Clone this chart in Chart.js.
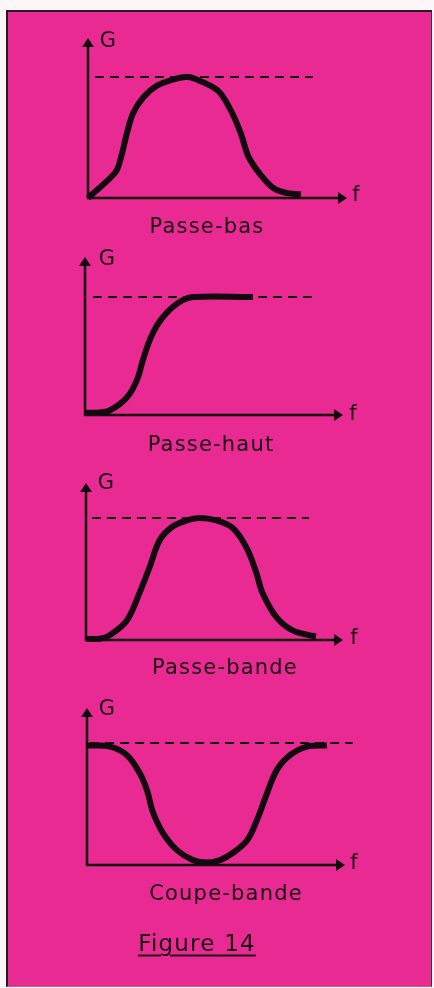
<!DOCTYPE html>
<html lang="fr">
<head>
<meta charset="utf-8">
<title>Figure 14</title>
<script src="https://cdn.jsdelivr.net/npm/chart.js@4.4.1/dist/chart.umd.min.js"></script>
<style>
  html, body { margin:0; padding:0; background:#fbf7f9; }
  body { width:434px; height:988px; position:relative; overflow:hidden; font-family:"DejaVu Sans", sans-serif; color:#1a1014; }
  .frame { position:absolute; left:6px; top:10px; width:423px; height:974px; background:#e92a92;
           border-left:2px solid #2a1620; border-top:2px solid #2a1620; border-right:1px solid #4a2a38; border-bottom:1px solid #b06a8a; }
  canvas { position:absolute; left:0; }
  .txt { position:absolute; transform:translate(-50%,-50%); white-space:nowrap; line-height:1; }
  .lbl { font-size:21px; letter-spacing:1.2px; }
  .ax { font-size:21px; }
  .fig { font-size:23px; letter-spacing:1.2px; text-decoration:underline; text-decoration-thickness:2px; text-underline-offset:4px; }
</style>
</head>
<body>
<div class="frame"></div>

<script>
// titres des filtres
const filterNames = ['Passe-bas', 'Passe-haut', 'Passe-bande', 'Coupe-bande'];
const axisG = 'G';
const axisF = 'f';
const figureTitle = 'Figure 14';

// courbes : f en % de l'axe, G relatif au niveau max (1)
const passeBasF = [0, 10.5, 12.4, 15.1, 17.4, 21.3, 26.7, 33, 37.6, 40.7, 50, 55, 58.9, 62, 66.7, 71.7, 77, 82.2];
const passeBasG = [0, 0.21, 0.31, 0.54, 0.70, 0.83, 0.93, 0.98, 1.0, 0.99, 0.89, 0.73, 0.54, 0.34, 0.19, 0.08, 0.04, 0.03];

const passeHautF = [0, 4.7, 9.7, 16.3, 20.2, 22.5, 25.2, 27.9, 31.8, 36.8, 41.9, 65.1];
const passeHautG = [0.02, 0.02, 0.04, 0.15, 0.30, 0.47, 0.64, 0.76, 0.87, 0.96, 1.0, 1.0];

const passeBandeF = [0, 5.4, 9.3, 15.9, 20.9, 24.8, 28.7, 33.7, 39.1, 44.2, 50.8, 57, 62.4, 66.3, 68.6, 74, 80.2, 86.8, 89.5];
const passeBandeG = [0.01, 0.01, 0.04, 0.16, 0.39, 0.60, 0.82, 0.93, 0.98, 1.0, 0.98, 0.92, 0.76, 0.55, 0.39, 0.19, 0.08, 0.04, 0.03];

const coupeBandeF = [0, 8.9, 15.5, 20.5, 23.3, 25.6, 29.5, 35, 41.1, 46.5, 51.6, 56.6, 62, 65.9, 69.8, 73.6, 78.7, 85.3, 93];
const coupeBandeG = [0.98, 0.97, 0.90, 0.75, 0.61, 0.43, 0.26, 0.12, 0.04, 0.02, 0.04, 0.10, 0.20, 0.37, 0.59, 0.78, 0.90, 0.97, 0.98];

// trait pointillé du gain max : début / fin sur f
const dashStart = [2.7, 3.1, 2.3, 1.2];
const dashEnd = [86.8, 88, 86.8, 103];
const gainMax = 1;

// mise en page de chaque petit graphe (pixels)
const panels = [
  { f: passeBasF,   g: passeBasG,   left: 88, tip: 347, top: 38,  axis: 198, dash: 77,  name:[207,226], G:[108,40],  F:[356,194] },
  { f: passeHautF,  g: passeHautG,  left: 85, tip: 343, top: 257, axis: 415, dash: 297, name:[211,444], G:[107,258], F:[353,413] },
  { f: passeBandeF, g: passeBandeG, left: 86, tip: 343, top: 483, axis: 640, dash: 518, name:[225,667], G:[106,482], F:[354,637] },
  { f: coupeBandeF, g: coupeBandeG, left: 87, tip: 345, top: 708, axis: 865, dash: 743, name:[226,893], G:[107,708], F:[354,862] }
];

const INK = '#120a0e';

// axes avec flèches, tracés sur le chartArea
const arrowAxes = {
  id: 'arrowAxes',
  afterDraw(chart){
    const a = chart.chartArea, c = chart.ctx;
    c.save();
    c.strokeStyle = INK; c.fillStyle = INK; c.lineWidth = 2.5;
    c.beginPath();
    c.moveTo(a.left, a.top + 6); c.lineTo(a.left, a.bottom);
    c.lineTo(a.right - 6, a.bottom);
    c.stroke();
    // flèche verticale
    c.beginPath();
    c.moveTo(a.left, a.top); c.lineTo(a.left - 6, a.top + 9); c.lineTo(a.left + 6, a.top + 9); c.closePath(); c.fill();
    // flèche horizontale
    c.beginPath();
    c.moveTo(a.right, a.bottom); c.lineTo(a.right - 9, a.bottom - 6); c.lineTo(a.right - 9, a.bottom + 6); c.closePath(); c.fill();
    c.restore();
  }
};

function addText(cls, txt, pos){
  const d = document.createElement('div');
  d.className = 'txt ' + cls;
  d.textContent = txt;
  d.style.left = pos[0] + 'px';
  d.style.top = pos[1] + 'px';
  document.body.appendChild(d);
}

panels.forEach((p, i)=>{
  const pad = 12;
  const cv = document.createElement('canvas');
  const h = (p.axis - p.top) + 2*pad;
  cv.width = 434; cv.height = h;
  cv.style.top = (p.top - pad) + 'px';
  cv.style.width = '434px'; cv.style.height = h + 'px';
  document.body.appendChild(cv);

  const yMax = (p.axis - p.top) / (p.axis - p.dash);
  const curve = p.f.map((x, k)=>({ x, y: p.g[k] }));

  new Chart(cv.getContext('2d'), {
    type: 'line',
    data: { datasets: [
      { data: curve, borderColor: INK, borderWidth: 6, pointRadius: 0, tension: 0.35, clip: false, borderCapStyle: 'butt', borderJoinStyle: 'round' },
      { data: [{x: dashStart[i], y: gainMax}, {x: dashEnd[i], y: gainMax}], borderColor: INK, borderWidth: 2, borderDash: [9, 6], pointRadius: 0, clip: false }
    ]},
    options: {
      responsive: false, animation: false, events: [],
      layout: { padding: { left: p.left, right: 434 - p.tip, top: pad, bottom: pad } },
      plugins: { legend: { display: false }, tooltip: { enabled: false } },
      scales: {
        x: { type: 'linear', min: 0, max: 100, display: false },
        y: { min: 0, max: yMax, display: false }
      }
    },
    plugins: [arrowAxes]
  });

  addText('ax', axisG, p.G);
  addText('ax', axisF, p.F);
  addText('lbl', filterNames[i], p.name);
});

addText('fig', figureTitle, [197, 943]);
</script>
</body>
</html>
